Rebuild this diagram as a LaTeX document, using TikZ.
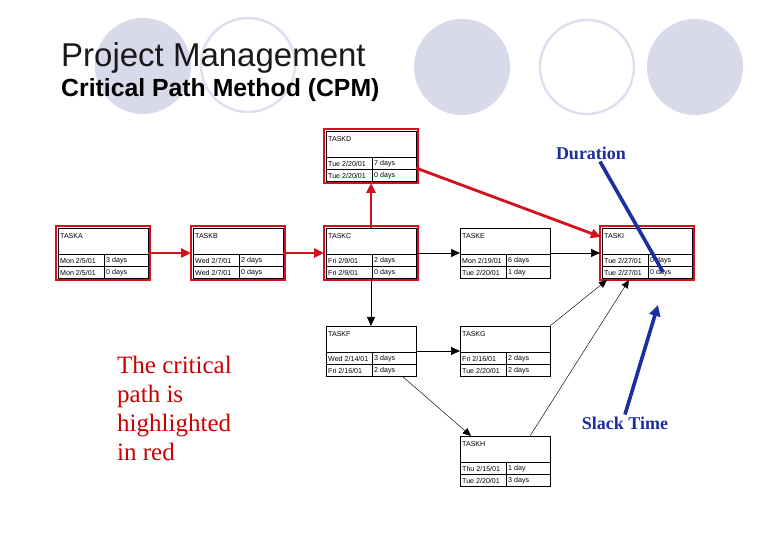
\documentclass[tikz,border=0pt]{standalone}
\usepackage{fontspec}
\setmainfont{Liberation Serif}
\setsansfont{Liberation Sans}
\usetikzlibrary{arrows.meta}
\definecolor{critred}{RGB}{212,16,28}
\definecolor{txtred}{RGB}{204,0,0}
\definecolor{annblue}{RGB}{28,46,160}
\definecolor{deco}{RGB}{217,217,236}
\definecolor{decoline}{RGB}{222,222,238}
\tikzset{
  taskbox/.style={draw=black, line width=0.6pt, fill=white, minimum width=90pt, minimum height=50pt, inner sep=0pt, outer sep=0pt},
  gridline/.style={draw=black, line width=0.5pt},
  tasklbl/.style={anchor=west, inner sep=0pt, font=\sffamily\fontsize{7.1}{8}\selectfont},
  critframe/.style={draw=critred, line width=2.8pt},
  critarrow/.style={draw=critred, line width=2.8pt, -{Triangle[length=10pt,width=9pt]}},
  plainarrow/.style={draw=black, line width=0.7pt, -{Triangle[length=9pt,width=8pt]}},
  thinarrow/.style={draw=black, line width=0.45pt, -{Triangle[length=8pt,width=7pt]}},
  blueline/.style={draw=annblue, line width=3.6pt},
  bluetxt/.style={text=annblue, font=\bfseries\fontsize{18}{20}\selectfont, inner sep=0pt},
  decofill/.style={fill=deco, draw=none},
  decoring/.style={draw=decoline, line width=2.4pt, fill=none}
}
\newcommand\cpmtask[8]{%
  \node[taskbox,anchor=north west] (#1) at (#2,#3) {};
  \draw[gridline] (#2,#3+26) -- (#2+90,#3+26) (#2,#3+38) -- (#2+90,#3+38) (#2+46,#3+26) -- (#2+46,#3+50);
  \node[tasklbl] (#1-t) at (#2+2,#3+8) {#4};
  \node[tasklbl] (#1-d1) at (#2+2,#3+32.5) {#5};
  \node[tasklbl] (#1-u1) at (#2+48,#3+32.5) {#6};
  \node[tasklbl] (#1-d2) at (#2+2,#3+44.5) {#7};
  \node[tasklbl] (#1-u2) at (#2+48,#3+44.5) {#8};
}
\newcommand\critframe[1]{%
  \draw[critframe] ([shift={(-2pt,2pt)}]#1.north west) rectangle ([shift={(2pt,-2pt)}]#1.south east);
}
\begin{document}
\begin{tikzpicture}[x=1pt,y=-1pt]
\useasboundingbox (0,0) rectangle (780,540);
\fill[white] (0,0) rectangle (780,540);
% decorative circles
\fill[decofill] (143,66) circle (48);
\draw[decoring] (248,65) circle (47);
\fill[decofill] (462,67) circle (48);
\draw[decoring] (587,67) circle (47);
\fill[decofill] (695,67) circle (48);
% titles
\node[anchor=base west, inner sep=0pt, font=\sffamily\fontsize{33}{36}\selectfont, text=black!90] (title) at (61,67) {Project Management};
\node[anchor=base west, inner sep=0pt, font=\sffamily\bfseries\fontsize{24.8}{28}\selectfont] (subtitle) at (61,97) {Critical Path Method (CPM)};
% tasks
\cpmtask{A}{58}{228}{TASKA}{Mon 2/5/01}{3 days}{Mon 2/5/01}{0 days}
\cpmtask{B}{193}{228}{TASKB}{Wed 2/7/01}{2 days}{Wed 2/7/01}{0 days}
\cpmtask{C}{326}{228}{TASKC}{Fri 2/9/01}{2 days}{Fri 2/9/01}{0 days}
\cpmtask{D}{326}{131}{TASKD}{Tue 2/20/01}{7 days}{Tue 2/20/01}{0 days}
\cpmtask{E}{460}{228}{TASKE}{Mon 2/19/01}{6 days}{Tue 2/20/01}{1 day}
\cpmtask{I}{602}{228}{TASKI}{Tue 2/27/01}{0 days}{Tue 2/27/01}{0 days}
\cpmtask{F}{326}{326}{TASKF}{Wed 2/14/01}{3 days}{Fri 2/16/01}{2 days}
\cpmtask{G}{460}{326}{TASKG}{Fri 2/16/01}{2 days}{Tue 2/20/01}{2 days}
\cpmtask{H}{460}{436}{TASKH}{Thu 2/15/01}{1 day}{Tue 2/20/01}{3 days}
\critframe{A}\critframe{B}\critframe{C}\critframe{D}\critframe{I}
% non-critical connectors
\draw[plainarrow] (C.east) -- (E.west);
\draw[plainarrow] (E.east) -- ([xshift=-2pt]I.west);
\draw[plainarrow] (C.south) -- (F.north);
\draw[plainarrow] (F.east) -- (G.west);
\draw[thinarrow] (G.north east) -- ([shift={(5pt,-2pt)}]I.south west);
\draw[thinarrow] ([xshift=-20pt]H.north east) -- ([shift={(27pt,-2pt)}]I.south west);
\draw[thinarrow] ([xshift=-14pt]F.south east) -- ([xshift=11pt]H.north west);
% critical connectors
\draw[critarrow] (A.east) -- ([xshift=-2pt]B.west);
\draw[critarrow] (B.east) -- ([xshift=-2pt]C.west);
\draw[critarrow] (C.north) -- ([yshift=-2pt]D.south);
\draw[critarrow] ([yshift=-12pt]D.east) -- ([shift={(-1pt,-9pt)}]I.north west);
% annotations
\node[bluetxt] (dur) at (591,153) {Duration};
\coordinate (durEnd) at (663,272);
\draw[blueline] ([xshift=9pt,yshift=-2pt]dur.south) -- (durEnd);
\node[bluetxt] (slack) at (625,423) {Slack Time};
\coordinate (slackEnd) at (658,305);
\draw[blueline, -{Triangle[length=11pt,width=11pt]}] ([yshift=2pt]slack.north) -- (slackEnd);
\node[anchor=north west, inner sep=0pt, align=left, text=txtred, font=\fontsize{25}{29}\selectfont] (note) at (117,356) {The critical\\path is\\highlighted\\in red};
\end{tikzpicture}
\end{document}
